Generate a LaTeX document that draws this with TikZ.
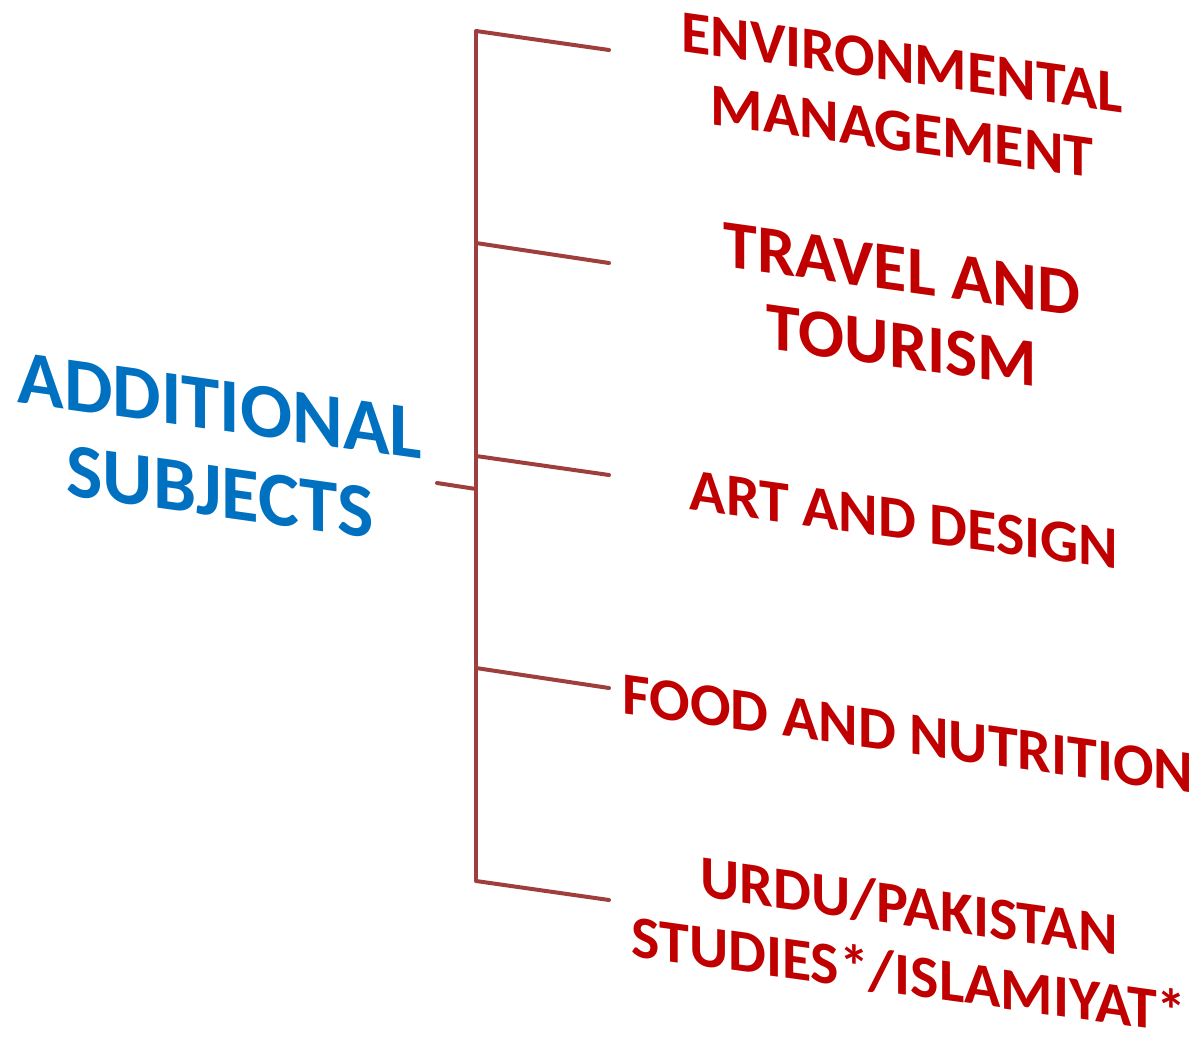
\documentclass[tikz,border=0pt]{standalone}
\usepackage{fontspec}
\setmainfont{Carlito}
\definecolor{redtxt}{HTML}{C00000}
\definecolor{bluetxt}{HTML}{0070C0}
\definecolor{linec}{HTML}{9E3F3D}
\begin{document}
\begin{tikzpicture}[x=1pt,y=-1pt,
  subj/.style={text=redtxt,font=\bfseries\fontsize{60}{69}\selectfont,align=center,yslant=-0.14,inner sep=0pt},
  subjbig/.style={subj,font=\bfseries\fontsize{68}{76}\selectfont},
  mainlbl/.style={text=bluetxt,font=\bfseries\fontsize{77}{86}\selectfont,align=center,yslant=-0.14,inner sep=0pt},
  conn/.style={draw=linec,line width=4pt,line cap=round}]
\useasboundingbox (0,0) rectangle (1199,1037);
\node[mainlbl] (main) at (220,449) {ADDITIONAL\\SUBJECTS};
\node[subj] (s1) at (902,97) {ENVIRONMENTAL\\MANAGEMENT};
\node[subjbig] (s2) at (902,308) {TRAVEL AND\\TOURISM};
\node[subj] (s3) at (904,520) {ART AND DESIGN};
\node[subj] (s4) at (908,734) {FOOD AND NUTRITION};
\node[subj] (s5) at (909,941) {URDU/PAKISTAN\\STUDIES*/ISLAMIYAT*};
\coordinate (j1) at (476,31);
\coordinate (j2) at (476,243);
\coordinate (j3) at (476,456);
\coordinate (j4) at (476,668);
\coordinate (j5) at (476,881);
\coordinate (jm) at (476,489);
\coordinate (stub) at (437,483);
\coordinate (e1) at (609,50);
\coordinate (e2) at (609,263);
\coordinate (e3) at (609,475);
\coordinate (e4) at (609,688);
\coordinate (e5) at (609,900);
\draw[conn,line cap=butt] (j1) -- (j5);
\draw[conn] (stub) -- (jm);
\draw[conn] (j1) -- (e1);
\draw[conn] (j2) -- (e2);
\draw[conn] (j3) -- (e3);
\draw[conn] (j4) -- (e4);
\draw[conn] (j5) -- (e5);
\end{tikzpicture}
\end{document}
